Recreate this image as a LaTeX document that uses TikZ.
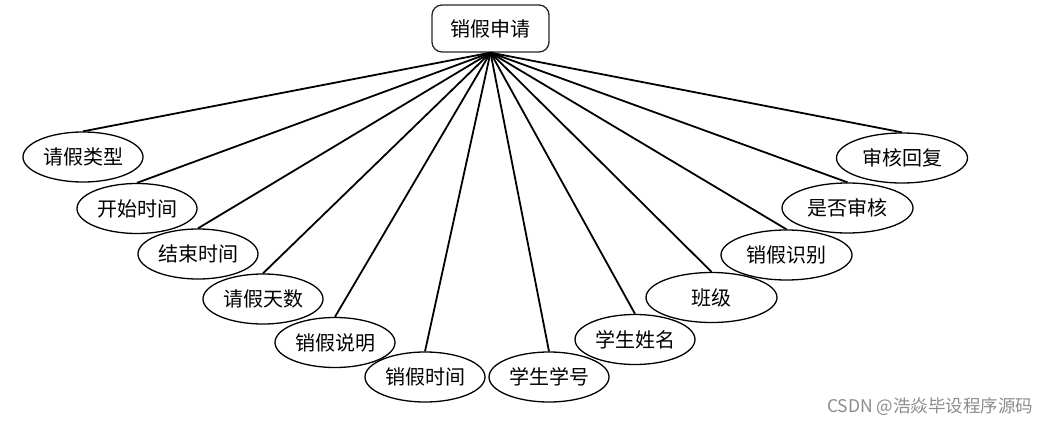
\documentclass[tikz,border=0pt]{standalone}
\usepackage{fontspec}
\setmainfont{Noto Sans CJK SC}
\usetikzlibrary{shapes.geometric}
\begin{document}
\begin{tikzpicture}[x=1pt,y=-1pt,
  topbox/.style={draw=black!85,line width=1.3pt,rounded corners=10pt,minimum width=117pt,minimum height=47pt,inner sep=0pt,font=\fontsize{20}{23}\selectfont},
  attr/.style={draw=black,line width=1.3pt,ellipse,minimum width=120pt,minimum height=50pt,inner sep=0pt,font=\fontsize{20}{23}\selectfont},
  wide/.style={minimum width=131pt},
  link/.style={line width=1.8pt}]
\useasboundingbox (0,0) rectangle (1052,425);
\node[topbox] (top) at (490.5,28.5) {销假申请};
\node[attr] (a1) at (83,157) {请假类型};
\node[attr] (a2) at (137,208.5) {开始时间};
\node[attr] (a3) at (198,254) {结束时间};
\node[attr] (a4) at (263,299) {请假天数};
\node[attr] (a5) at (335,342.5) {销假说明};
\node[attr] (a6) at (425,377) {销假时间};
\node[attr] (a7) at (549,377) {学生学号};
\node[attr] (a8) at (635,339.5) {学生姓名};
\node[attr,wide] (a9) at (711.5,297.5) {班级};
\node[attr,wide] (a10) at (786.5,255) {销假识别};
\node[attr,wide] (a11) at (847.5,208) {是否审核};
\node[attr,wide] (a12) at (902,158) {审核回复};
\foreach \i in {1,...,12} {\draw[link] (top.south) -- (a\i.north);}
\node[text=black!45,font=\fontsize{17.5}{20}\selectfont,anchor=east] (wm) at (1037,407) {CSDN @浩焱毕设程序源码};
\end{tikzpicture}
\end{document}
